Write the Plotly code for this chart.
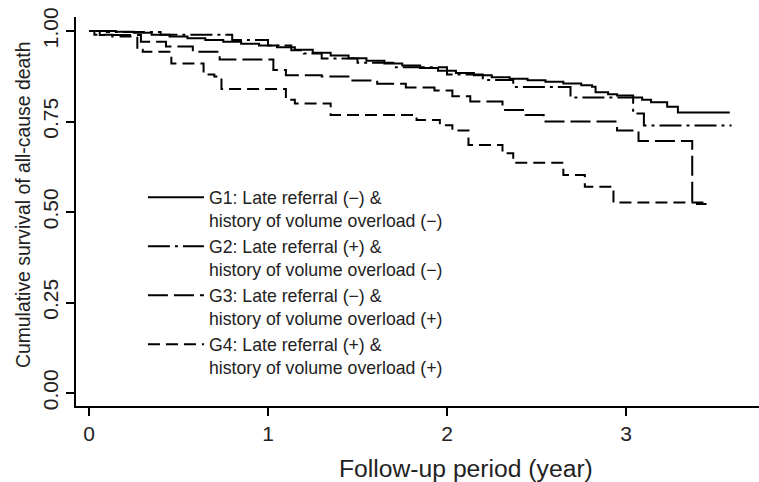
import plotly.graph_objects as go

# ---- data ----
g1_t = [0, 0.15, 0.25, 0.35, 0.45, 0.55, 0.65, 0.75, 0.85, 0.95, 1.05, 1.15, 1.25, 1.35,
        1.45, 1.55, 1.65, 1.75, 1.85, 1.95, 2.05, 2.15, 2.25, 2.35, 2.45, 2.55, 2.65,
        2.75, 2.81, 2.83, 2.90, 2.95, 3.04, 3.09, 3.14, 3.23, 3.29, 3.58]
g1_s = [1.0, 0.998, 0.995, 0.99, 0.985, 0.98, 0.975, 0.97, 0.965, 0.96, 0.955, 0.948, 0.94,
        0.932, 0.925, 0.918, 0.91, 0.905, 0.898, 0.89, 0.884, 0.878, 0.872, 0.868, 0.864,
        0.86, 0.855, 0.85, 0.846, 0.831, 0.825, 0.822, 0.816, 0.81, 0.803, 0.791, 0.775, 0.775]

g2_t = [0, 0.10, 0.40, 0.80, 1.00, 1.13, 1.20, 1.30, 1.50, 1.70, 2.00, 2.20, 2.37, 2.69,
        3.04, 3.10, 3.59]
g2_s = [1.0, 0.997, 0.99, 0.975, 0.96, 0.947, 0.938, 0.924, 0.912, 0.90, 0.88, 0.865,
        0.845, 0.816, 0.772, 0.739, 0.739]

g3_t = [0, 0.06, 0.29, 0.43, 0.58, 0.73, 1.03, 1.10, 1.30, 1.46, 1.61, 1.77, 1.93, 2.03,
        2.13, 2.31, 2.44, 2.54, 2.95, 3.07, 3.37, 3.45]
g3_s = [1.0, 0.989, 0.970, 0.957, 0.943, 0.921, 0.892, 0.878, 0.874, 0.863, 0.854, 0.844,
        0.836, 0.82, 0.805, 0.782, 0.768, 0.750, 0.725, 0.696, 0.522, 0.522]

g4_t = [0, 0.03, 0.13, 0.27, 0.30, 0.46, 0.64, 0.70, 0.74, 1.10, 1.15, 1.35, 1.83, 1.96,
        2.03, 2.12, 2.31, 2.37, 2.65, 2.77, 2.93, 3.45]
g4_s = [1.0, 0.99, 0.985, 0.948, 0.943, 0.91, 0.88, 0.874, 0.84, 0.81, 0.80, 0.768, 0.754,
        0.74, 0.725, 0.685, 0.662, 0.636, 0.602, 0.570, 0.526, 0.526]

names = [
    "G1: Late referral (\u2212) &<br>history of volume overload (\u2212)",
    "G2: Late referral (+) &<br>history of volume overload (\u2212)",
    "G3: Late referral (\u2212) &<br>history of volume overload (+)",
    "G4: Late referral (+) &<br>history of volume overload (+)",
]
x_ticks = [0, 1, 2, 3]
y_ticks = [0.0, 0.25, 0.5, 0.75, 1.0]
y_tick_text = ["0.00", "0.25", "0.50", "0.75", "1.00"]
x_title = "Follow-up period (year)"
y_title = "Cumulative survival of all-cause death"

series = [(g1_t, g1_s), (g2_t, g2_s), (g3_t, g3_s), (g4_t, g4_s)]
dashes = ["solid", "22px,5px,3px,5px", "20px,6px", "12px,6px"]

FONT = "Liberation Sans, Arial, sans-serif"
TXT = "#222"

fig = go.Figure()
for i, ((t, s), nm, dsh) in enumerate(zip(series, names, dashes)):
    fig.add_trace(go.Scatter(
        x=t, y=s, mode="lines", name=nm, legendgroup=f"g{i}",
        line=dict(color="black", width=2, dash=dsh, shape="hv"),
        hoverinfo="skip",
    ))

fig.update_layout(
    width=759, height=482,
    margin=dict(l=76, r=0, t=17, b=76),
    paper_bgcolor="white", plot_bgcolor="white",
    font=dict(family=FONT, color="black"),
    showlegend=True,
    legend=dict(
        x=0.098, y=0.583, xanchor="left", yanchor="top",
        font=dict(size=17.7, family=FONT, color=TXT),
        bgcolor="rgba(0,0,0,0)", borderwidth=0,
        tracegroupgap=0, valign="top", itemwidth=56,
    ),
    xaxis=dict(
        range=[-0.0726, 3.743], tickvals=x_ticks, ticktext=[str(v) for v in x_ticks],
        showgrid=False, zeroline=False, showline=True, linecolor="black", linewidth=2,
        ticks="outside", ticklen=8, tickwidth=2, tickcolor="black", automargin=False,
        tickfont=dict(size=21, family=FONT, color=TXT),
    ),
    yaxis=dict(
        range=[-0.0359, 1.0387], tickvals=y_ticks, ticktext=y_tick_text,
        showgrid=False, zeroline=False, showline=True, linecolor="black", linewidth=2,
        ticks="outside", ticklen=8, tickwidth=2, tickcolor="black", tickangle=-90,
        automargin=False,
        tickfont=dict(size=21, family=FONT, color=TXT),
    ),
    annotations=[
        dict(text=x_title, xref="paper", yref="paper", x=0.571, y=-0.1594,
             xanchor="center", yanchor="middle", showarrow=False,
             font=dict(size=24.7, family=FONT, color=TXT)),
        dict(text=y_title, xref="paper", yref="paper", x=-0.0776, y=0.519,
             xanchor="center", yanchor="middle", showarrow=False, textangle=-90,
             font=dict(size=19.4, family=FONT, color=TXT)),
    ],
)

fig.write_html("out.html", config={"displayModeBar": False, "staticPlot": True},
               post_script="document.body.style.margin='0';")
